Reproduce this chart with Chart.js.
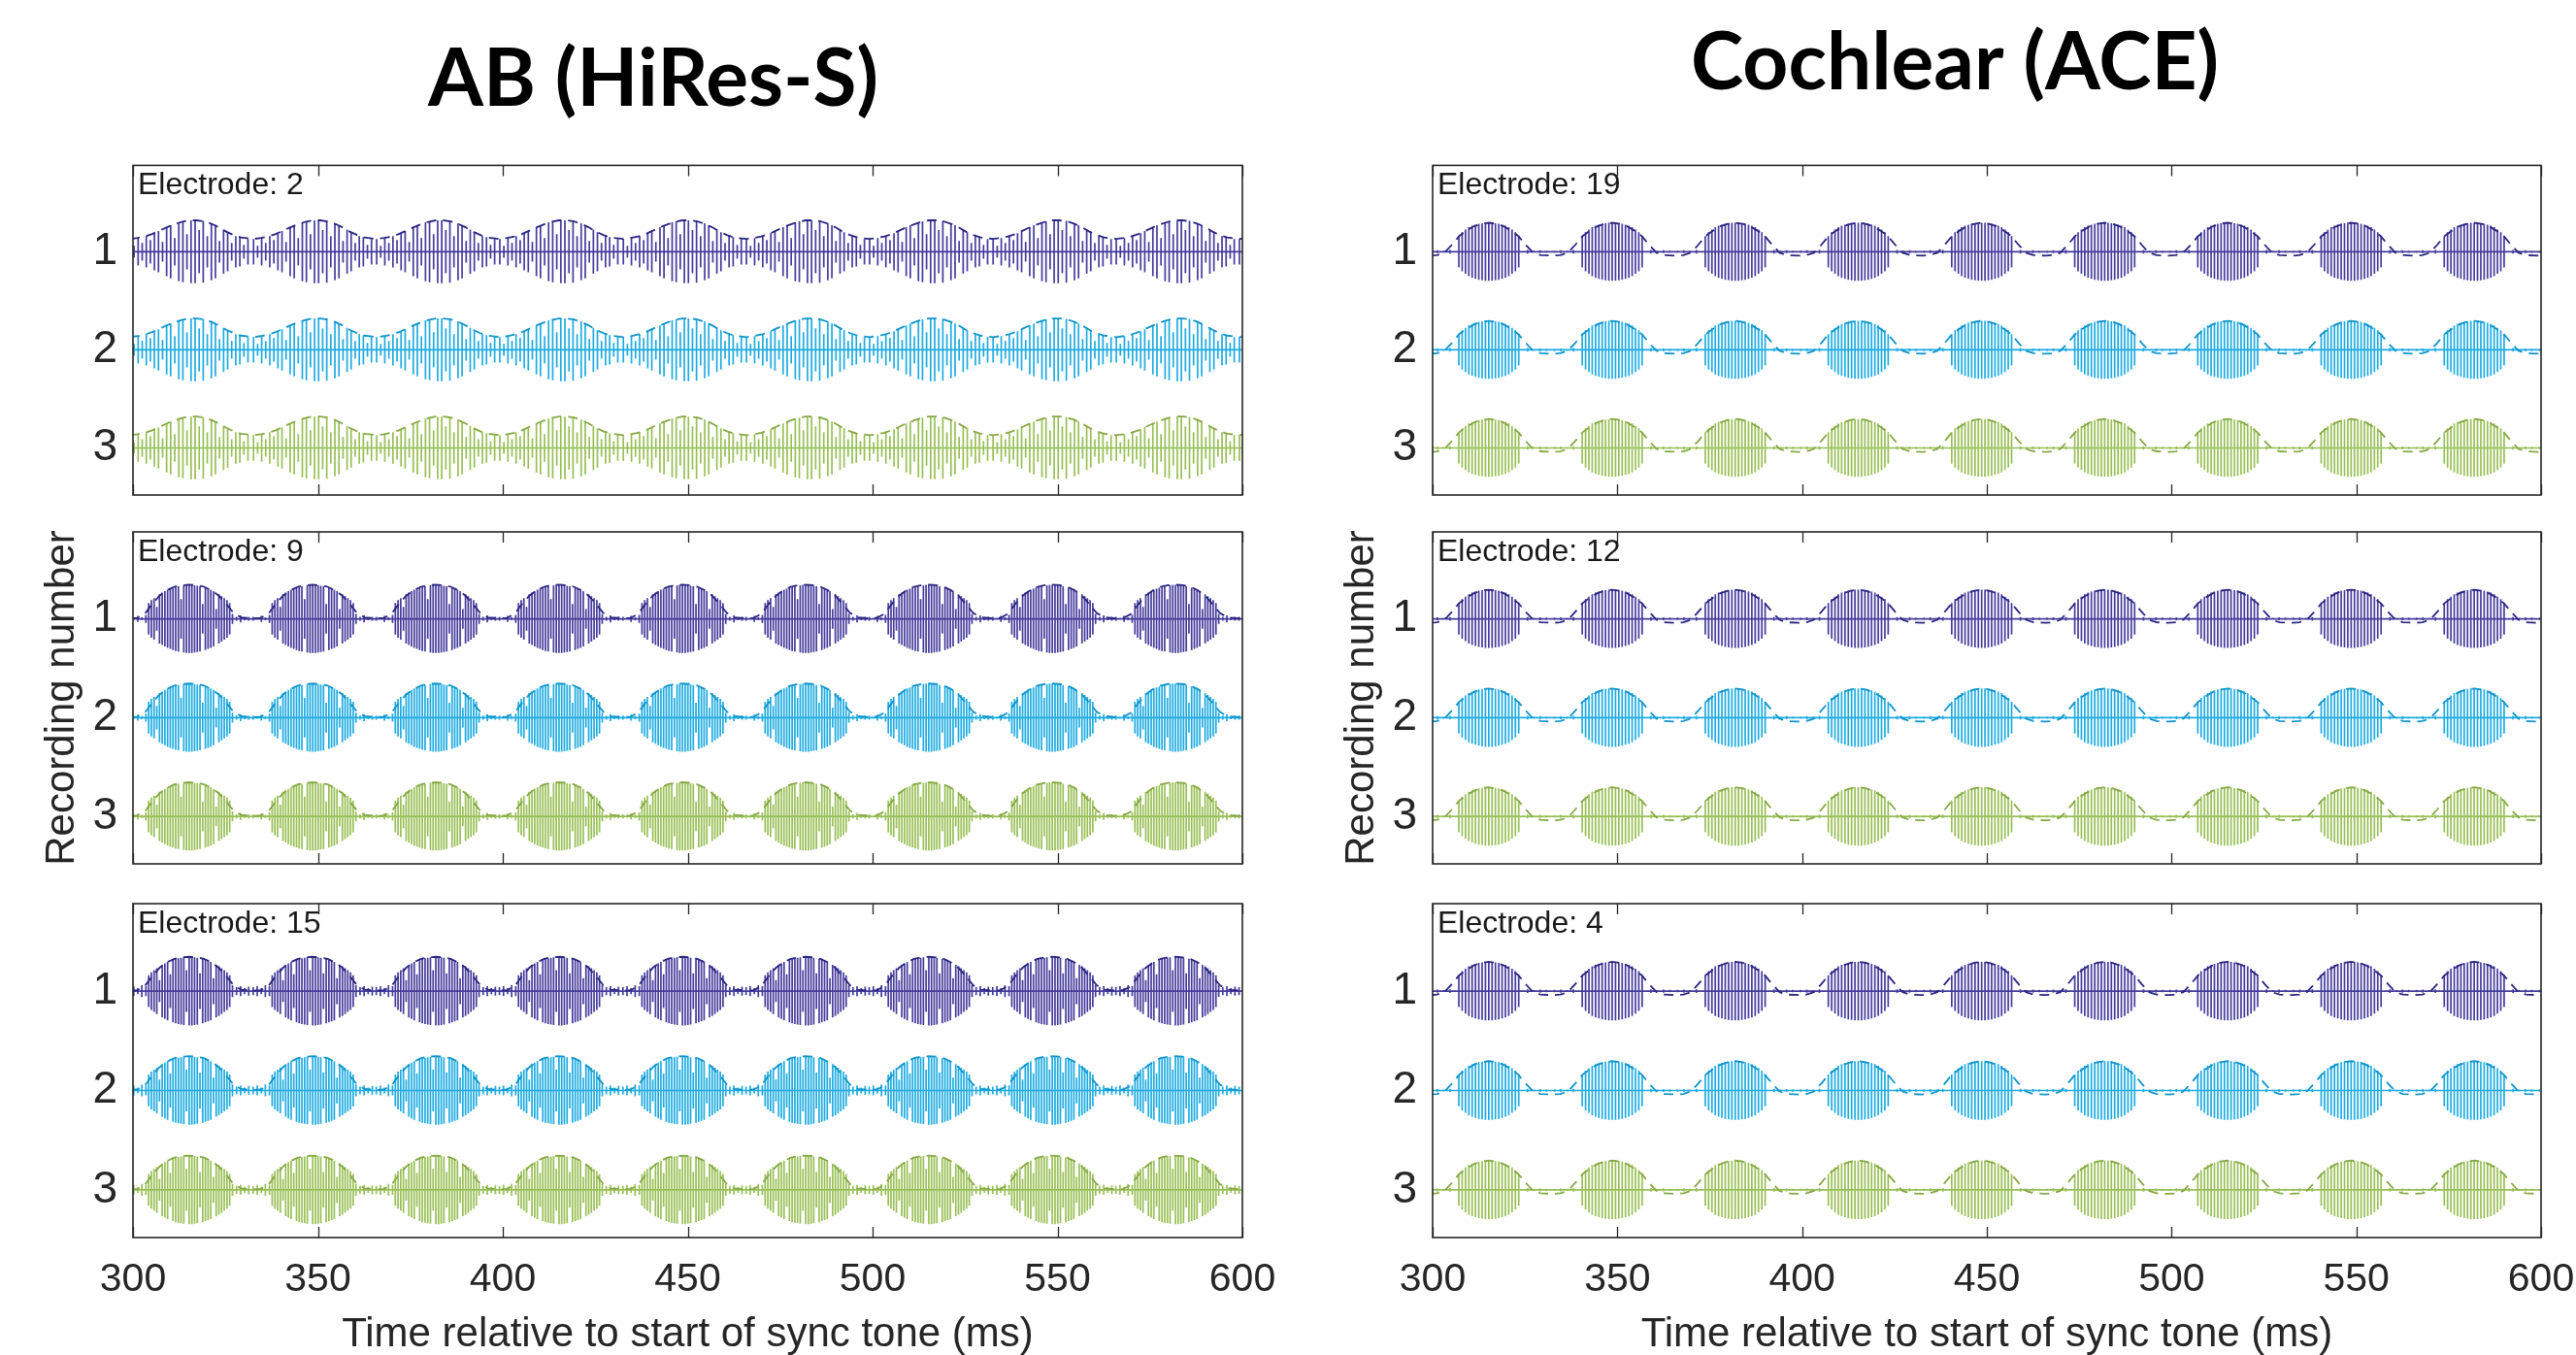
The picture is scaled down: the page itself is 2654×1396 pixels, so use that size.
<!DOCTYPE html>
<html>
<head>
<meta charset="utf-8">
<script src="https://cdn.jsdelivr.net/npm/chart.js@4.4.1/dist/chart.umd.min.js"></script>
<style>
  html, body { margin: 0; padding: 0; background: #ffffff; overflow: hidden; width: 2654px; height: 1396px; }
  canvas { position: absolute; display: block; }
</style>
</head>
<body>
<canvas id="p00"></canvas>
<canvas id="p10"></canvas>
<canvas id="p20"></canvas>
<canvas id="p01"></canvas>
<canvas id="p11"></canvas>
<canvas id="p21"></canvas>
<script>
// ---------------- data ----------------
const columnTitles = ['AB (HiRes-S)', 'Cochlear (ACE)'];
const leftElectrodes = [2, 9, 15];
const rightElectrodes = [19, 12, 4];
const xTickValues = [300, 350, 400, 450, 500, 550, 600];
const yTickValues = [1, 2, 3];
const recordings = [1, 2, 3];
const xAxisTitle = 'Time relative to start of sync tone (ms)';
const yAxisTitle = 'Recording number';

// centres (ms) of the modulation cycles (incl. the partial cycles at both edges)
const burstCentres = [281.9, 315.2, 348.6, 381.9, 415.2, 448.6, 481.9, 515.2, 548.6, 581.9, 615.2];

// envelope samples, offsets (ms) from a cycle centre
const envOffsets = [-16, -14, -12, -10, -8, -6, -4, -2, 0, 2, 4, 6, 8, 10, 12, 14];

// AB electrode 2 : dense pulses through the whole cycle, shallow modulation
const e2PulseOffsets = [-16, -14.9, -13.8, -12.7, -11.6, -10.5, -9.4, -8.3, -7.2, -6.1, -5.0, -3.9, -2.8, -1.7, -0.6,
                        0.5, 1.6, 2.7, 3.8, 4.9, 6.0, 7.1, 8.2, 9.3, 10.4, 11.5, 12.6, 13.7, 14.8, 15.9];
const e2PulseHeights = [0.13, 0.06, 0.14, 0.09, 0.16, 0.12, 0.19, 0.21, 0.10, 0.25, 0.27, 0.14, 0.30, 0.31, 0.18,
                        0.32, 0.32, 0.22, 0.315, 0.16, 0.29, 0.27, 0.11, 0.225, 0.20, 0.09, 0.16, 0.15, 0.07, 0.13];
const e2Envelope = [0.13, 0.14, 0.155, 0.18, 0.215, 0.25, 0.28, 0.305, 0.32, 0.32, 0.31, 0.285, 0.25, 0.205, 0.17, 0.145];

// AB electrodes 9 and 15 : bursts of pulses, deep modulation
const abPulseOffsets = [-16.1, -15.0, -13.9, -12.8, -11.7,
  -10.95, -10.22, -9.49, -8.76, -8.03, -7.3, -6.57, -5.84, -5.11, -4.38, -3.65, -2.92, -2.19, -1.46, -0.73, 0,
  0.73, 1.46, 2.19, 2.92, 3.65, 4.38, 5.11, 5.84, 6.57, 7.3, 8.03, 8.76, 9.49, 10.22, 10.95,
  11.7, 12.8, 13.9, 15.0, 16.1];
const e9PulseHeights = [0.02, 0.01, 0.03, 0.015, 0.04,
  0.16, 0.19, 0.21, 0.12, 0.25, 0.265, 0.28, 0.295, 0.305, 0.315, 0.325, 0.33, 0.20, 0.34, 0.345, 0.345,
  0.345, 0.34, 0.335, 0.33, 0.15, 0.315, 0.305, 0.295, 0.28, 0.10, 0.25, 0.23, 0.21, 0.19, 0.16,
  0.05, 0.02, 0.035, 0.015, 0.02];
const e15PulseHeights = [0.04, 0.05, 0.03, 0.06, 0.05,
  0.16, 0.19, 0.21, 0.23, 0.11, 0.265, 0.28, 0.295, 0.17, 0.315, 0.325, 0.33, 0.335, 0.34, 0.21, 0.345,
  0.345, 0.34, 0.335, 0.18, 0.325, 0.315, 0.305, 0.295, 0.13, 0.265, 0.25, 0.23, 0.21, 0.19, 0.16,
  0.06, 0.04, 0.05, 0.03, 0.045];
const abEnvelope = [0.005, 0.01, 0.05, 0.15, 0.235, 0.29, 0.325, 0.34, 0.345, 0.34, 0.325, 0.29, 0.235, 0.15, 0.06, 0.015];

// Cochlear (ACE) electrodes 19, 12, 4
const acePulseOffsets = [-15.6, -13.9, -12.2, -10.5,
  -8.1, -7.2, -6.3, -5.4, -4.5, -3.6, -2.7, -1.8, -0.9, 0, 0.9, 1.8, 2.7, 3.6, 4.5, 5.4, 6.3, 7.2, 8.1,
  10.5, 12.2, 13.9, 15.6];
const acePulseHeights = [0.012, 0.015, 0.01, 0.018,
  0.16, 0.2, 0.225, 0.25, 0.265, 0.275, 0.285, 0.29, 0.295, 0.295, 0.295, 0.29, 0.285, 0.275, 0.265, 0.25, 0.225, 0.2, 0.16,
  0.018, 0.01, 0.015, 0.012];
const aceEnvelope = [-0.04, -0.035, -0.01, 0.07, 0.16, 0.215, 0.26, 0.285, 0.295, 0.285, 0.26, 0.215, 0.16, 0.07, -0.01, -0.035];

const pulseColours = ['rgba(58, 48, 150, 0.95)', 'rgba(18, 166, 222, 0.95)', 'rgba(146, 188, 76, 0.95)'];
const envColours = ['#2a2680', '#1094c9', '#86a844'];

// ---------------- panel templates ----------------
const leftPanels = [
  { offsets: e2PulseOffsets, heights: e2PulseHeights, env: e2Envelope },
  { offsets: abPulseOffsets, heights: e9PulseHeights, env: abEnvelope },
  { offsets: abPulseOffsets, heights: e15PulseHeights, env: abEnvelope }
];
const rightPanels = [
  { offsets: acePulseOffsets, heights: acePulseHeights, env: aceEnvelope },
  { offsets: acePulseOffsets, heights: acePulseHeights, env: aceEnvelope },
  { offsets: acePulseOffsets, heights: acePulseHeights, env: aceEnvelope }
];

// ---------------- layout ----------------
const FONT = '"Liberation Sans", Arial, Helvetica, sans-serif';
const TEXT = '#262626';
Chart.defaults.font.family = FONT;
Chart.defaults.color = TEXT;

const colGeom = [
  { left: 0, width: 1320, padRight: 40, topPadLeft: 66 },
  { left: 1339, width: 1315, padRight: 36, topPadLeft: 71 }
];
const rowGeom = [
  { top: 0, height: 516, padTop: 0, padBottom: 6 },
  { top: 538, height: 362, padTop: 10, padBottom: 10 },
  { top: 921, height: 475, padTop: 10, padBottom: 0 }
];
const titlePads = [{ top: 33, bottom: 39 }, { top: 16, bottom: 56 }];

const framePlugin = {
  id: 'frame',
  afterDatasetsDraw(chart, args, opts) {
    const { ctx, chartArea: a } = chart;
    const x = chart.scales.x;
    ctx.save();
    ctx.strokeStyle = TEXT;
    ctx.lineWidth = 1.6;
    ctx.strokeRect(a.left, a.top, a.right - a.left, a.bottom - a.top);
    ctx.lineWidth = 1.3;
    ctx.beginPath();
    xTickValues.forEach(v => {
      const px = Math.round(x.getPixelForValue(v)) + 0.5;
      ctx.moveTo(px, a.top); ctx.lineTo(px, a.top + 11);
      ctx.moveTo(px, a.bottom); ctx.lineTo(px, a.bottom - 11);
    });
    ctx.stroke();
    ctx.font = '32px ' + FONT;
    ctx.fillStyle = '#1a1a1a';
    ctx.textBaseline = 'alphabetic';
    ctx.textAlign = 'left';
    ctx.fillText(opts.label, a.left + 5, a.top + 30);
    ctx.restore();
  }
};

function buildDatasets(tpl) {
  const sets = [];
  recordings.forEach((r, k) => {
    const pulse = [];
    burstCentres.forEach(c => tpl.offsets.forEach((o, i) => {
      const t = c + o, h = tpl.heights[i];
      pulse.push({ x: t, y: r }, { x: t, y: r - h }, { x: t, y: r + h }, { x: t, y: r });
    }));
    sets.push({ data: pulse, borderColor: pulseColours[k], borderWidth: 1.7, pointRadius: 0, tension: 0, order: 2 });
    const env = [];
    burstCentres.forEach(c => envOffsets.forEach((o, i) => env.push({ x: c + o, y: r - tpl.env[i] })));
    sets.push({ data: env, borderColor: envColours[k], borderWidth: 1.8, borderDash: [10, 7], pointRadius: 0, tension: 0, order: 1 });
  });
  return sets;
}

function makePanel(row, col) {
  const cg = colGeom[col], rg = rowGeom[row];
  const canvas = document.getElementById('p' + row + col);
  canvas.width = cg.width; canvas.height = rg.height;
  canvas.style.left = cg.left + 'px'; canvas.style.top = rg.top + 'px';
  canvas.style.width = cg.width + 'px'; canvas.style.height = rg.height + 'px';
  const padLeft = row === 0 ? cg.topPadLeft : 0;
  const yWidth = 137 - padLeft;
  const tpl = col === 0 ? leftPanels[row] : rightPanels[row];
  const electrode = col === 0 ? leftElectrodes[row] : rightElectrodes[row];

  new Chart(canvas, {
    type: 'line',
    data: { datasets: buildDatasets(tpl) },
    options: {
      responsive: false,
      animation: false,
      devicePixelRatio: 1,
      events: [],
      layout: { padding: { left: padLeft, right: cg.padRight, top: rg.padTop, bottom: rg.padBottom } },
      plugins: {
        legend: { display: false },
        tooltip: { enabled: false },
        title: {
          display: row === 0,
          text: columnTitles[col],
          font: { family: 'Lato, "Open Sans", sans-serif', weight: 'bold', size: 82, lineHeight: 1.2 },
          color: '#000000',
          padding: titlePads[col]
        },
        frame: { label: 'Electrode: ' + electrode }
      },
      scales: {
        x: {
          type: 'linear', min: 300, max: 600,
          display: row === 2,
          afterBuildTicks: s => { s.ticks = xTickValues.map(v => ({ value: v })); },
          afterFit: s => { if (row === 2) s.height = 121; s.paddingLeft = 0; s.paddingRight = 0; },
          grid: { display: false, drawTicks: false },
          border: { display: false },
          ticks: { font: { size: 41 }, color: TEXT, padding: 19, autoSkip: false, maxRotation: 0 },
          title: { display: true, text: xAxisTitle, font: { size: 42, lineHeight: 1 }, color: TEXT, padding: { top: 0, bottom: 0 } }
        },
        y: {
          type: 'linear', min: 0.12, max: 3.48, reverse: true,
          afterBuildTicks: s => { s.ticks = yTickValues.map(v => ({ value: v })); },
          afterFit: s => { s.width = yWidth; s.paddingTop = 0; s.paddingBottom = 0; },
          grid: { display: false, drawTicks: false },
          border: { display: false },
          ticks: { font: { size: 46 }, color: TEXT, padding: 16 },
          title: { display: row === 1, text: yAxisTitle, font: { size: 42, lineHeight: 1 }, color: TEXT, padding: { top: 43, bottom: 0 } }
        }
      }
    },
    plugins: [framePlugin]
  });
}

for (let row = 0; row < 3; row++) for (let col = 0; col < 2; col++) makePanel(row, col);
</script>
</body>
</html>
